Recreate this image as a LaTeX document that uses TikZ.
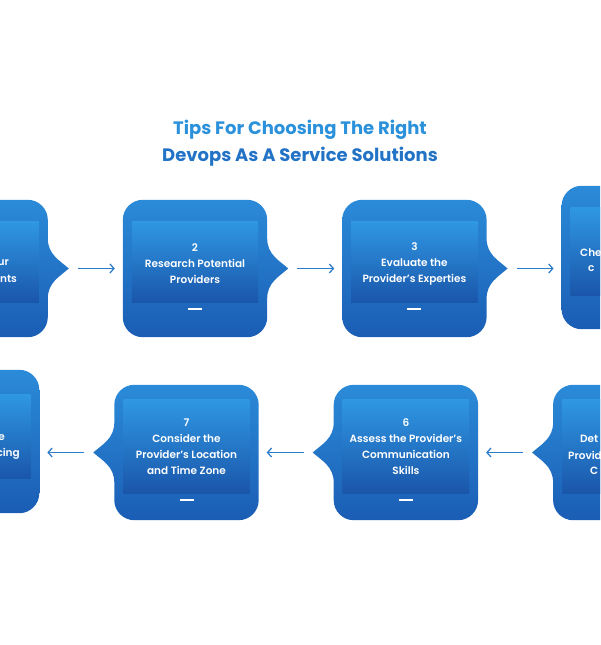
\documentclass[tikz,border=0pt]{standalone}
\usepackage{fontspec}
\setmainfont{Poppins}[BoldFont={* SemiBold}]
\newfontfamily\heavyfont{Poppins}
\usetikzlibrary{arrows.meta,positioning,calc}

\definecolor{cardtop}{HTML}{2B8BD9}
\definecolor{cardbot}{HTML}{1A5DB4}
\definecolor{innertop}{HTML}{2F97E3}
\definecolor{innerbot}{HTML}{1A56AA}
\definecolor{arrowblue}{HTML}{2E7DCB}
\definecolor{titlelight}{HTML}{2A91DA}
\definecolor{titledark}{HTML}{2273C6}

% card with the tab on the right / on the left
% #1 node, #2 inset of the inner panel at the top, #3 at the bottom
\newcommand{\cardright}[3]{%
  \shade[top color=cardtop, bottom color=cardbot]
    ($(#1.north west)+(20,0)$) -- ($(#1.north east)+(-20,0)$)
    .. controls ($(#1.north east)+(-9,0)$) and ($(#1.north east)+(0,9)$) .. ($(#1.north east)+(0,20)$)
    -- ($(#1.east)+(0,-30)$)
    .. controls ($(#1.east)+(0,-14)$) and ($(#1.east)+(12,-8)$) .. ($(#1.east)+(21,0)$) coordinate (#1tip)
    .. controls ($(#1.east)+(12,8)$) and ($(#1.east)+(0,14)$) .. ($(#1.east)+(0,30)$)
    -- ($(#1.south east)+(0,-20)$)
    .. controls ($(#1.south east)+(0,-9)$) and ($(#1.south east)+(-9,0)$) .. ($(#1.south east)+(-20,0)$)
    -- ($(#1.south west)+(20,0)$)
    .. controls ($(#1.south west)+(9,0)$) and ($(#1.south west)+(0,-9)$) .. ($(#1.south west)+(0,-20)$)
    -- ($(#1.north west)+(0,20)$)
    .. controls ($(#1.north west)+(0,9)$) and ($(#1.north west)+(9,0)$) .. ($(#1.north west)+(20,0)$) -- cycle;
  \shade[top color=innertop, bottom color=innerbot]
    ($(#1.north west)+(9,#2)$) rectangle ($(#1.south east)+(-9,-#3)$);
  \draw[white, line width=2pt] ($(#1.south)+(-7,-#3+7)$) -- ($(#1.south)+(7,-#3+7)$);
}
\newcommand{\cardleft}[3]{%
  \shade[top color=cardtop, bottom color=cardbot]
    ($(#1.north west)+(20,0)$) -- ($(#1.north east)+(-20,0)$)
    .. controls ($(#1.north east)+(-9,0)$) and ($(#1.north east)+(0,9)$) .. ($(#1.north east)+(0,20)$)
    -- ($(#1.south east)+(0,-20)$)
    .. controls ($(#1.south east)+(0,-9)$) and ($(#1.south east)+(-9,0)$) .. ($(#1.south east)+(-20,0)$)
    -- ($(#1.south west)+(20,0)$)
    .. controls ($(#1.south west)+(9,0)$) and ($(#1.south west)+(0,-9)$) .. ($(#1.south west)+(0,-20)$)
    -- ($(#1.west)+(0,30)$)
    .. controls ($(#1.west)+(0,14)$) and ($(#1.west)+(-12,8)$) .. ($(#1.west)+(-21,0)$) coordinate (#1tip)
    .. controls ($(#1.west)+(-12,-8)$) and ($(#1.west)+(0,-14)$) .. ($(#1.west)+(0,-30)$)
    -- ($(#1.north west)+(0,20)$)
    .. controls ($(#1.north west)+(0,9)$) and ($(#1.north west)+(9,0)$) .. ($(#1.north west)+(20,0)$) -- cycle;
  \shade[top color=innertop, bottom color=innerbot]
    ($(#1.north west)+(9,#2)$) rectangle ($(#1.south east)+(-9,-#3)$);
  \draw[white, line width=2pt] ($(#1.south)+(-7,-#3+7)$) -- ($(#1.south)+(7,-#3+7)$);
}

\begin{document}
\begin{tikzpicture}[x=1pt, y=-1pt, node distance=75pt, font=\fontsize{10.5}{16}\selectfont\bfseries]
\tikzset{
  card/.style={rectangle, minimum width=144pt, minimum height=137pt, inner sep=0pt},
  tall/.style={minimum height=143pt},
  txt/.style={text=white, align=center, inner sep=0pt},
  arr/.style={-{Straight Barb[length=4pt,width=9pt]}, line width=1.3pt, draw=arrowblue, shorten <=9pt, shorten >=8pt},
}
\useasboundingbox (0,0) rectangle (600,645);
\clip (0,0) rectangle (600,645);

% top row
\node[card] (c2) at (195,268.5) {};
\node[card, left=of c2] (c1) {};
\node[card, right=of c2] (c3) {};
\node[card, tall, right=of c3, yshift=11pt] (c4) {};
% bottom row
\node[card, minimum height=135pt] (c7) at (186.5,452.5) {};
\node[card, minimum height=135pt, right=of c7] (c6) {};
\node[card, minimum height=135pt, right=of c6] (c5) {};
\node[card, tall, left=of c7, yshift=11pt] (c8) {};

\cardright{c1}{22}{35}
\cardright{c2}{22}{35}
\cardright{c3}{22}{35}
\cardright{c4}{22}{34}
\cardleft{c5}{15}{27}
\cardleft{c6}{15}{27}
\cardleft{c7}{15}{27}
\cardleft{c8}{25}{35}

\node[font=\heavyfont\fontsize{18}{27}\selectfont\bfseries, align=center] (title) at (300,143)
  {\textcolor{titlelight}{Tips For Choosing The Right}\\\textcolor{titledark}{Devops As A Service Solutions}};

\node[txt, anchor=east] (t1a) at (9,263) {ur};
\node[txt, anchor=east] (t1b) at (17,279) {nts};
\node[txt] (t2) at ([yshift=5pt]c2.center) {2\\Research Potential\\Providers};
\node[txt] (t3) at ([yshift=5pt]c3.center) {3\\Evaluate the\\Provider’s Experties};
\node[txt, anchor=west] (t4a) at (580,253) {Che};
\node[txt, anchor=west] (t4b) at (588,269) {c};
\node[txt, anchor=west] (t5a) at (580,439) {Det};
\node[txt, anchor=west] (t5b) at (568,455) {Provid};
\node[txt, anchor=west] (t5c) at (590,471) {C};
\node[txt] (t6) at ([yshift=6pt]c6.center) {6\\Assess the Provider’s\\Communication\\Skills};
\node[txt] (t7) at ([yshift=6pt]c7.center) {7\\Consider the\\Provider’s Location\\and Time Zone};
\node[txt, anchor=east] (t8a) at (5,438) {e};
\node[txt, anchor=east] (t8b) at (20,454) {cing};

\draw[arr] (c1tip) -- (c1tip -| c2.west);
\draw[arr] (c2tip) -- (c2tip -| c3.west);
\draw[arr] (c3tip) -- (c3tip -| c4.west);
\draw[arr] (c5tip) -- (c5tip -| c6.east);
\draw[arr] (c6tip) -- (c6tip -| c7.east);
\draw[arr] (c7tip) -- (c7tip -| c8.east);
\end{tikzpicture}
\end{document}
